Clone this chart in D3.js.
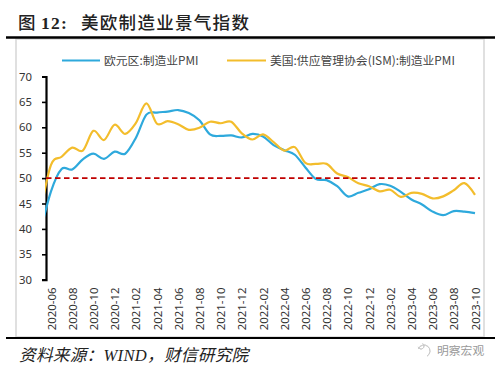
<!DOCTYPE html>
<html>
<head>
<meta charset="utf-8">
<script src="https://cdn.jsdelivr.net/npm/d3@7"></script>
<style>
html,body{margin:0;padding:0;background:#fff;}
svg{display:block;}
text{font-family:"Noto Sans CJK SC","Noto Sans",sans-serif;}
</style>
</head>
<body>
<svg id="chart" width="500" height="371"></svg>
<script>
//-----------------------------
// data
//-----------------------------
var months = ['2020-05','2020-06','2020-07','2020-08','2020-09','2020-10','2020-11','2020-12',
	'2021-01','2021-02','2021-03','2021-04','2021-05','2021-06','2021-07','2021-08','2021-09','2021-10','2021-11','2021-12',
	'2022-01','2022-02','2022-03','2022-04','2022-05','2022-06','2022-07','2022-08','2022-09','2022-10','2022-11','2022-12',
	'2023-01','2023-02','2023-03','2023-04','2023-05','2023-06','2023-07','2023-08','2023-09','2023-10'];

var euroPmi = [39.4,47.4,51.8,51.7,53.7,54.8,53.8,55.2,
	54.8,57.9,62.5,62.9,63.1,63.4,62.8,61.4,58.6,58.3,58.4,58.0,
	58.7,58.2,56.5,55.5,54.6,52.1,49.8,49.6,48.4,46.4,47.1,47.8,
	48.8,48.5,47.3,45.8,44.8,43.4,42.7,43.5,43.4,43.1];

var usPmi = [43.1,52.6,54.2,56.0,55.4,59.3,57.5,60.5,
	58.7,60.8,64.7,60.7,61.2,60.6,59.5,59.9,61.1,60.8,61.1,58.8,
	57.6,58.6,57.1,55.4,56.1,53.0,52.8,52.8,50.9,50.2,49.0,48.4,
	47.4,47.7,46.3,47.1,46.9,46.0,46.4,47.6,49.0,46.7];

var yTicks = [30,35,40,45,50,55,60,65,70];
var xTicks = months.filter((d,i)=>i%2==1);
var refLine = 50;

var seriesNames = ['欧元区:制造业PMI','美国:供应管理协会(ISM):制造业PMI'];
var titleParts = ['图','12:','美欧制造业景气指数'];
var sourceText = '资料来源：WIND，财信研究院';
var markText = '明察宏观';

//-----------------------------
// scales
//-----------------------------
var svg = d3.select('#chart');

var axisX = 46;

var x = d3.scalePoint().domain(months).range([40.4,475]);
var y = d3.scaleLinear().domain([30,70]).range([279.7,76.5]);

var line = d3.line()
	.x((d,i)=>x(months[i]))
	.y(d=>y(d))
	.curve(d3.curveCatmullRom.alpha(0));

svg.append('defs').append('clipPath').attr('id','plot-clip')
	.append('rect')
		.attr('x',axisX-1)
		.attr('y',60)
		.attr('width',445)
		.attr('height',225);

//-----------------------------
// frame
//-----------------------------
svg.append('rect')
	.attr('x',16).attr('y',39)
	.attr('width',468).attr('height',298)
	.attr('fill','#fff')
	.attr('stroke','#d9d9d9')
	.attr('stroke-width',1.6);

svg.append('line').attr('x1',6).attr('x2',495).attr('y1',37.5).attr('y2',37.5)
	.attr('stroke','#000').attr('stroke-width',2.4);
svg.append('line').attr('x1',6).attr('x2',495).attr('y1',338).attr('y2',338)
	.attr('stroke','#000').attr('stroke-width',2);

var title = svg.append('text')
	.attr('y',29)
	.attr('font-size',17.5)
	.attr('font-weight',500)
	.attr('fill','#222')
	.style('font-family','"Liberation Serif","Noto Sans CJK SC",serif')
	.style('letter-spacing','1.3px');

title.selectAll('tspan').data(titleParts).enter().append('tspan')
	.attr('x',(d,i)=>[18,41,81][i])
	.attr('font-weight',(d,i)=>i==1?700:500)
	.text(d=>d);

//-----------------------------
// axes
//-----------------------------
var gy = svg.append('g')
	.attr('transform','translate('+axisX+',0)')
	.call(d3.axisLeft(y).tickValues(yTicks).tickSize(4).tickPadding(10));
gy.select('.domain').attr('stroke','#000').attr('stroke-width',2.2);
gy.selectAll('.tick line').attr('stroke','#000').attr('stroke-width',1.6);
gy.selectAll('.tick text')
	.attr('fill','#333')
	.style('font-family','"Noto Sans",sans-serif')
	.style('font-size','11.3px');

var gx = svg.append('g')
	.attr('transform','translate(0,280)')
	.call(d3.axisBottom(x).tickValues(xTicks).tickSize(0));
gx.select('.domain').remove();
gx.selectAll('.tick text')
	.attr('fill','#333')
	.attr('text-anchor','end')
	.attr('transform','rotate(-90)')
	.attr('x',-7.5)
	.attr('y',0)
	.attr('dy','0.35em')
	.style('font-family','"Noto Sans",sans-serif')
	.style('font-size','11.4px');

//-----------------------------
// lines
//-----------------------------
var plot = svg.append('g').attr('clip-path','url(#plot-clip)');

plot.append('path').datum(euroPmi)
	.attr('d',line)
	.attr('fill','none')
	.attr('stroke','#2ea9dc')
	.attr('stroke-width',2.2);

plot.append('path').datum(usPmi)
	.attr('d',line)
	.attr('fill','none')
	.attr('stroke','#f3bd2c')
	.attr('stroke-width',2.2);

svg.append('line')
	.attr('x1',axisX).attr('x2',480)
	.attr('y1',y(refLine)).attr('y2',y(refLine))
	.attr('stroke','#c00000')
	.attr('stroke-width',1.9)
	.attr('stroke-dasharray','5.5,3.5');

//-----------------------------
// legend
//-----------------------------
var legend = [
	{name:seriesNames[0], color:'#2ea9dc', x1:62, x2:100, tx:104},
	{name:seriesNames[1], color:'#f3bd2c', x1:227, x2:266, tx:270}
];

var lg = svg.selectAll('.lg').data(legend).enter().append('g').attr('class','lg');
lg.append('line')
	.attr('x1',d=>d.x1).attr('x2',d=>d.x2)
	.attr('y1',60.5).attr('y2',60.5)
	.attr('stroke',d=>d.color)
	.attr('stroke-width',2.2);
lg.append('text')
	.attr('x',d=>d.tx).attr('y',64.5)
	.attr('font-size',11.8)
	.attr('fill','#444')
	.text(d=>d.name);

//-----------------------------
// footer
//-----------------------------
svg.append('text')
	.attr('x',19).attr('y',361)
	.attr('font-size',16.6)
	.attr('font-style','italic')
	.attr('fill','#222')
	.style('font-family','"Liberation Serif","Noto Sans CJK SC",serif')
	.style('letter-spacing','0.3px')
	.text(sourceText);

// watermark
var wm = svg.append('g').attr('fill','none').attr('stroke','#ccc').attr('stroke-width',1);
wm.append('path').attr('d',d3.arc()({innerRadius:6,outerRadius:6,startAngle:-1.2,endAngle:2.6})).attr('transform','translate(424,351)');
wm.append('path').attr('d',d3.arc()({innerRadius:3,outerRadius:3,startAngle:0.6,endAngle:4.4})).attr('transform','translate(421,346)');

svg.append('text')
	.attr('x',437).attr('y',354.5)
	.attr('font-size',11.8)
	.attr('fill','#999')
	.text(markText);
</script>
</body>
</html>
